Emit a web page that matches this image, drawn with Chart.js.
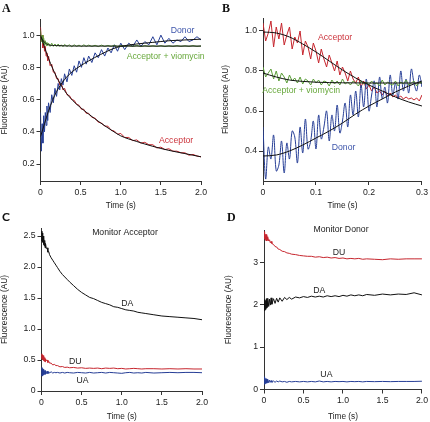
<!DOCTYPE html>
<html>
<head>
<meta charset="utf-8">
<script src="https://cdn.jsdelivr.net/npm/chart.js@4.4.1/dist/chart.umd.min.js"></script>
<style>
body { margin:0; width:430px; height:422px; position:relative; background:#fff; overflow:hidden; }
.panel { position:absolute; width:215px; height:211px; }
.letter { position:absolute; font:bold 12px "Liberation Serif", serif; color:#111; }
</style>
</head>
<body>
<div class="panel" style="left:0;top:0"><canvas id="chartA"></canvas></div>
<div class="panel" style="left:215px;top:0"><canvas id="chartB"></canvas></div>
<div class="panel" style="left:0;top:211px"><canvas id="chartC"></canvas></div>
<div class="panel" style="left:215px;top:211px"><canvas id="chartD"></canvas></div>
<div class="letter" style="left:2px;top:1px">A</div>
<div class="letter" style="left:222px;top:1px">B</div>
<div class="letter" style="left:2px;top:209px;font-family:'Lato',sans-serif">C</div>
<div class="letter" style="left:227px;top:210px">D</div>
<script>
// ---- panel A : 0 - 2 s ----
const timeA = [0,0.01,0.02,0.03,0.04,0.05,0.06,0.07,0.08,0.09,
  0.1,0.12,0.14,0.16,0.18,0.2,0.22,0.24,0.26,0.28,
  0.3,0.33,0.36,0.39,0.42,0.45,0.48,0.51,0.54,0.57,
  0.6,0.64,0.68,0.72,0.76,0.8,0.84,0.88,0.92,0.96,
  1.0,1.05,1.1,1.15,1.2,1.25,1.3,1.35,1.4,1.45,
  1.5,1.55,1.6,1.65,1.7,1.75,1.8,1.85,1.9,1.95,2.0];
const acceptorA = [1.05,0.96,1.00,0.92,0.97,0.90,0.93,0.87,0.89,0.84,
  0.87,0.81,0.82,0.77,0.77,0.73,0.73,0.69,0.70,0.66,
  0.67,0.63,0.625,0.60,0.595,0.57,0.565,0.54,0.54,0.515,
  0.515,0.49,0.485,0.46,0.455,0.435,0.435,0.41,0.405,0.385,
  0.39,0.365,0.365,0.345,0.35,0.33,0.335,0.32,0.32,0.30,
  0.305,0.29,0.295,0.28,0.28,0.27,0.27,0.255,0.26,0.25,0.245];
const donorA = [0.52,0.28,0.45,0.33,0.50,0.40,0.52,0.44,0.56,0.47,
  0.58,0.52,0.63,0.58,0.67,0.62,0.70,0.66,0.73,0.69,
  0.76,0.71,0.79,0.75,0.81,0.77,0.84,0.80,0.86,0.82,
  0.87,0.83,0.89,0.86,0.91,0.87,0.92,0.89,0.94,0.90,
  0.95,0.91,0.95,0.93,0.97,0.93,0.96,0.94,0.99,0.94,
  1.00,0.95,0.98,0.95,0.97,0.96,0.99,0.96,0.97,0.99,0.97];
const viomycinA = [1.03,0.96,1.00,0.95,0.98,0.94,0.965,0.935,0.955,0.935,
  0.95,0.93,0.95,0.93,0.945,0.93,0.945,0.93,0.94,0.928,
  0.942,0.93,0.94,0.928,0.94,0.93,0.938,0.929,0.94,0.93,
  0.938,0.93,0.937,0.929,0.938,0.93,0.936,0.93,0.937,0.929,
  0.936,0.93,0.935,0.93,0.936,0.929,0.935,0.93,0.934,0.93,
  0.935,0.929,0.934,0.93,0.935,0.93,0.934,0.93,0.935,0.93,0.933];
const fitTimeA = [0,0.05,0.1,0.15,0.2,0.25,0.3,0.4,0.5,0.6,0.75,0.9,1.0,1.2,1.4,1.6,1.8,2.0];
const acceptorFitA = [1.0,0.925,0.855,0.795,0.74,0.695,0.655,0.595,0.55,0.51,0.455,0.405,0.375,0.34,0.31,0.285,0.265,0.245];
const donorFitA = [0.37,0.45,0.53,0.595,0.65,0.69,0.725,0.775,0.81,0.84,0.88,0.915,0.93,0.945,0.955,0.965,0.97,0.975];
const vioFitTimeA = [0,0.05,0.1,0.2,0.5,1.0,2.0];
const viomycinFitA = [0.99,0.955,0.94,0.935,0.932,0.932,0.932];

// ---- panel B : 0 - 0.3 s ----
const timeB = [0,0.005,0.01,0.015,0.02,0.025,0.03,0.035,0.04,0.045,
  0.05,0.055,0.06,0.065,0.07,0.075,0.08,0.085,0.09,0.095,
  0.1,0.105,0.11,0.115,0.12,0.125,0.13,0.135,0.14,0.145,
  0.15,0.155,0.16,0.165,0.17,0.175,0.18,0.185,0.19,0.195,
  0.2,0.205,0.21,0.215,0.22,0.225,0.23,0.235,0.24,0.245,
  0.25,0.255,0.26,0.265,0.27,0.275,0.28,0.285,0.29,0.295,0.3];
const acceptorB = [1.04,0.95,0.99,1.05,0.92,1.02,0.96,1.04,0.93,0.98,
  1.02,0.91,0.97,0.94,1.00,0.88,0.95,0.92,0.86,0.94,
  0.90,0.84,0.91,0.86,0.82,0.88,0.84,0.80,0.85,0.78,
  0.82,0.79,0.75,0.80,0.76,0.74,0.77,0.72,0.75,0.71,
  0.73,0.70,0.72,0.69,0.70,0.68,0.70,0.675,0.69,0.67,
  0.68,0.665,0.675,0.66,0.67,0.66,0.665,0.655,0.665,0.65,0.68];
const donorB = [0.52,0.26,0.42,0.36,0.48,0.30,0.33,0.45,0.29,0.44,
  0.36,0.50,0.47,0.34,0.52,0.39,0.56,0.41,0.45,0.55,
  0.41,0.58,0.46,0.52,0.60,0.45,0.58,0.50,0.63,0.49,
  0.55,0.64,0.52,0.68,0.58,0.70,0.57,0.73,0.62,0.76,
  0.60,0.68,0.75,0.62,0.77,0.66,0.72,0.64,0.78,0.68,
  0.74,0.66,0.80,0.70,0.76,0.69,0.81,0.74,0.70,0.78,0.72];
const viomycinB = [0.82,0.77,0.79,0.81,0.76,0.80,0.75,0.79,0.77,0.74,
  0.78,0.75,0.765,0.74,0.77,0.735,0.76,0.75,0.73,0.76,
  0.74,0.755,0.73,0.75,0.745,0.725,0.755,0.735,0.75,0.73,
  0.76,0.735,0.745,0.73,0.75,0.74,0.725,0.75,0.735,0.745,
  0.73,0.75,0.735,0.74,0.725,0.755,0.73,0.745,0.735,0.73,
  0.75,0.725,0.745,0.735,0.755,0.73,0.74,0.75,0.725,0.745,0.74];
const fitTimeB = [0,0.025,0.05,0.075,0.1,0.125,0.15,0.175,0.2,0.225,0.25,0.275,0.3];
const acceptorFitB = [0.995,0.99,0.97,0.935,0.895,0.85,0.805,0.765,0.73,0.70,0.67,0.645,0.625];
const donorFitB = [0.375,0.38,0.40,0.43,0.465,0.50,0.54,0.585,0.625,0.66,0.695,0.725,0.75];
const vioFitTimeB = [0,0.025,0.05,0.075,0.1,0.15,0.2,0.3];
const viomycinFitB = [0.79,0.77,0.755,0.748,0.744,0.741,0.74,0.74];

// ---- panels C and D : 0 - 2 s ----
const timeCD = [0,0.005,0.01,0.015,0.02,0.025,0.03,0.035,0.04,0.045,
  0.05,0.06,0.07,0.08,0.09,0.1,0.12,0.14,0.16,0.18,
  0.2,0.23,0.26,0.29,0.32,0.35,0.4,0.45,0.5,0.55,
  0.6,0.65,0.7,0.75,0.8,0.85,0.9,0.95,1.0,1.05,
  1.1,1.15,1.2,1.25,1.3,1.4,1.5,1.6,1.7,1.8,1.9,2.0];
const daC = [2.58,2.42,2.55,2.40,2.50,2.36,2.47,2.34,2.43,2.31,
  2.38,2.30,2.31,2.24,2.25,2.20,2.15,2.11,2.07,2.03,
  1.99,1.93,1.88,1.84,1.80,1.76,1.70,1.64,1.59,1.55,
  1.51,1.49,1.46,1.43,1.41,1.39,1.36,1.35,1.33,1.31,
  1.30,1.29,1.27,1.26,1.25,1.23,1.21,1.20,1.19,1.18,1.17,1.15];
const duC = [0.60,0.52,0.58,0.50,0.57,0.49,0.55,0.48,0.54,0.47,
  0.52,0.49,0.50,0.46,0.48,0.45,0.45,0.42,0.43,0.41,
  0.41,0.39,0.395,0.38,0.385,0.375,0.38,0.37,0.375,0.365,
  0.37,0.365,0.37,0.36,0.37,0.365,0.37,0.36,0.365,0.355,
  0.36,0.365,0.36,0.355,0.36,0.36,0.355,0.36,0.355,0.36,0.355,0.355];
const uaC = [0.38,0.24,0.36,0.25,0.35,0.26,0.34,0.27,0.33,0.27,
  0.33,0.28,0.32,0.28,0.31,0.29,0.31,0.29,0.30,0.295,
  0.30,0.29,0.30,0.29,0.30,0.295,0.29,0.30,0.295,0.29,
  0.30,0.29,0.295,0.30,0.29,0.30,0.295,0.29,0.285,0.295,
  0.30,0.29,0.295,0.29,0.30,0.29,0.295,0.30,0.295,0.30,0.30,0.295];
const duD = [3.72,3.55,3.70,3.52,3.66,3.55,3.65,3.50,3.60,3.52,
  3.58,3.50,3.53,3.46,3.49,3.44,3.42,3.37,3.36,3.31,
  3.30,3.26,3.25,3.22,3.21,3.19,3.18,3.16,3.15,3.14,
  3.14,3.12,3.13,3.11,3.12,3.10,3.11,3.09,3.10,3.08,
  3.09,3.08,3.09,3.07,3.08,3.07,3.06,3.08,3.07,3.08,3.08,3.08];
const daD = [2.05,1.85,2.12,1.88,2.10,1.90,2.14,1.92,2.08,1.95,
  2.15,1.96,2.13,1.99,2.16,2.01,2.14,2.03,2.15,2.06,
  2.16,2.08,2.17,2.12,2.17,2.13,2.18,2.16,2.19,2.17,
  2.20,2.18,2.20,2.18,2.21,2.19,2.21,2.19,2.22,2.20,
  2.23,2.21,2.23,2.21,2.24,2.22,2.25,2.23,2.25,2.24,2.28,2.23];
const uaD = [0.30,0.12,0.28,0.14,0.26,0.15,0.25,0.15,0.24,0.16,
  0.23,0.16,0.22,0.17,0.21,0.17,0.20,0.17,0.20,0.18,
  0.20,0.18,0.19,0.17,0.19,0.18,0.19,0.18,0.19,0.18,
  0.19,0.18,0.20,0.18,0.19,0.18,0.19,0.185,0.19,0.18,
  0.19,0.185,0.19,0.18,0.19,0.185,0.19,0.185,0.19,0.19,0.19,0.195];

// tick labels
const ticksX2s = ['0','0.5','1.0','1.5','2.0'];
const ticksXB = ['0','0.1','0.2','0.3'];
const ticksYA = ['0.2','0.4','0.6','0.8','1.0'];
const ticksYB = ['0.4','0.6','0.8','1.0'];
const ticksYC = ['0','0.5','1.0','1.5','2.0','2.5'];
const ticksYD = ['0','1','2','3'];

const RED = 'rgb(198,38,46)', BLUE = 'rgb(38,62,150)', GREEN = 'rgb(92,158,58)', BLACK = '#111';
const FONT = '"Liberation Sans", Arial, sans-serif';
const AXIS = '#333';

function pts(xs, ys) { return xs.map((x, i) => ({ x: x, y: ys[i] })); }

function trace(xs, ys, color, tension) {
  return { data: pts(xs, ys), borderColor: color, borderWidth: 1, pointRadius: 0, fill: false, tension: tension || 0 };
}
function fit(xs, ys) {
  return { data: pts(xs, ys), borderColor: BLACK, borderWidth: 1, pointRadius: 0, fill: false, cubicInterpolationMode: 'monotone' };
}

// text written inside the plots, placed in data units
const plotText = {
  id: 'plotText',
  afterDatasetsDraw(chart, args, opts) {
    const ctx = chart.ctx, sx = chart.scales.x, sy = chart.scales.y;
    ctx.save();
    ctx.font = '8.7px ' + FONT;
    ctx.textAlign = 'center';
    ctx.textBaseline = 'middle';
    (opts.items || []).forEach(it => {
      ctx.fillStyle = it.color;
      ctx.fillText(it.text, sx.getPixelForValue(it.x), sy.getPixelForValue(it.y));
    });
    ctx.restore();
  }
};

function axis(min, max, labels, title, size, horizontal) {
  return {
    type: 'linear', min: min, max: max,
    afterBuildTicks: s => { s.ticks = labels.map(l => ({ value: Number(l) })); },
    afterFit: s => { if (horizontal) s.height = size; else s.width = size; },
    ticks: { callback: (v, i) => labels[i], color: '#222', font: { size: 8.7, family: FONT }, padding: 2, maxRotation: 0, autoSkip: false },
    grid: { drawOnChartArea: false, drawTicks: true, tickLength: 4, color: AXIS, lineWidth: 1 },
    border: { display: true, color: AXIS, width: 1 },
    title: { display: true, text: title, color: '#222', font: { size: 8.3, family: FONT }, padding: 0 }
  };
}

function makeChart(id, datasets, box, xs, ys, items) {
  return new Chart(document.getElementById(id), {
    type: 'line',
    data: { datasets: datasets },
    options: {
      responsive: true, maintainAspectRatio: false, animation: false, devicePixelRatio: 1, events: [],
      layout: { padding: { left: box.padL, top: box.padT, right: box.padR, bottom: 0 } },
      scales: {
        x: axis(xs.min, xs.max, xs.labels, 'Time (s)', box.xH, true),
        y: axis(ys.min, ys.max, ys.labels, 'Fluorescence (AU)', box.yW, false)
      },
      plugins: { legend: { display: false }, tooltip: { enabled: false }, plotText: { items: items } }
    },
    plugins: [plotText]
  });
}

makeChart('chartA', [
    fit(fitTimeA, acceptorFitA), fit(fitTimeA, donorFitA), fit(vioFitTimeA, viomycinFitA),
    trace(timeA, viomycinA, GREEN), trace(timeA, donorA, BLUE), trace(timeA, acceptorA, RED)
  ],
  { padL: 0, yW: 40.5, padT: 19, padR: 14, xH: 30 },
  { min: 0, max: 2, labels: ticksX2s }, { min: 0.095, max: 1.1, labels: ticksYA },
  [ { text: 'Donor', x: 1.77, y: 1.03, color: 'rgb(60,84,170)' },
    { text: 'Acceptor + viomycin', x: 1.56, y: 0.869, color: 'rgb(104,168,60)' },
    { text: 'Acceptor', x: 1.69, y: 0.345, color: 'rgb(204,52,60)' } ]);

makeChart('chartB', [
    fit(fitTimeB, acceptorFitB), fit(fitTimeB, donorFitB), fit(vioFitTimeB, viomycinFitB),
    trace(timeB, viomycinB, GREEN), trace(timeB, donorB, BLUE, 0.35), trace(timeB, acceptorB, RED)
  ],
  { padL: 6, yW: 42, padT: 18, padR: 7, xH: 30 },
  { min: 0, max: 0.3, labels: ticksXB }, { min: 0.25, max: 1.065, labels: ticksYB },
  [ { text: 'Acceptor', x: 0.136, y: 0.965, color: 'rgb(204,52,60)' },
    { text: 'Acceptor + viomycin', x: 0.072, y: 0.70, color: 'rgb(104,168,60)' },
    { text: 'Donor', x: 0.152, y: 0.417, color: 'rgb(60,84,170)' } ]);

makeChart('chartC', [
    trace(timeCD, daC, BLACK), trace(timeCD, uaC, BLUE), trace(timeCD, duC, RED)
  ],
  { padL: 0, yW: 41.5, padT: 17, padR: 13, xH: 31 },
  { min: 0, max: 2, labels: ticksX2s }, { min: 0, max: 2.63, labels: ticksYC },
  [ { text: 'Monitor Acceptor', x: 1.04, y: 2.56, color: '#222' },
    { text: 'DA', x: 1.07, y: 1.41, color: '#222' },
    { text: 'DU', x: 0.42, y: 0.48, color: '#222' },
    { text: 'UA', x: 0.51, y: 0.17, color: '#222' } ]);

makeChart('chartD', [
    trace(timeCD, daD, BLACK), trace(timeCD, uaD, BLUE), trace(timeCD, duD, RED)
  ],
  { padL: 9, yW: 40, padT: 19, padR: 6.5, xH: 32.5 },
  { min: 0, max: 2, labels: ticksX2s }, { min: 0, max: 3.76, labels: ticksYD },
  [ { text: 'Monitor Donor', x: 0.975, y: 3.78, color: '#222' },
    { text: 'DU', x: 0.95, y: 3.22, color: '#222' },
    { text: 'DA', x: 0.70, y: 2.34, color: '#222' },
    { text: 'UA', x: 0.79, y: 0.34, color: '#222' } ]);
</script>
</body>
</html>
